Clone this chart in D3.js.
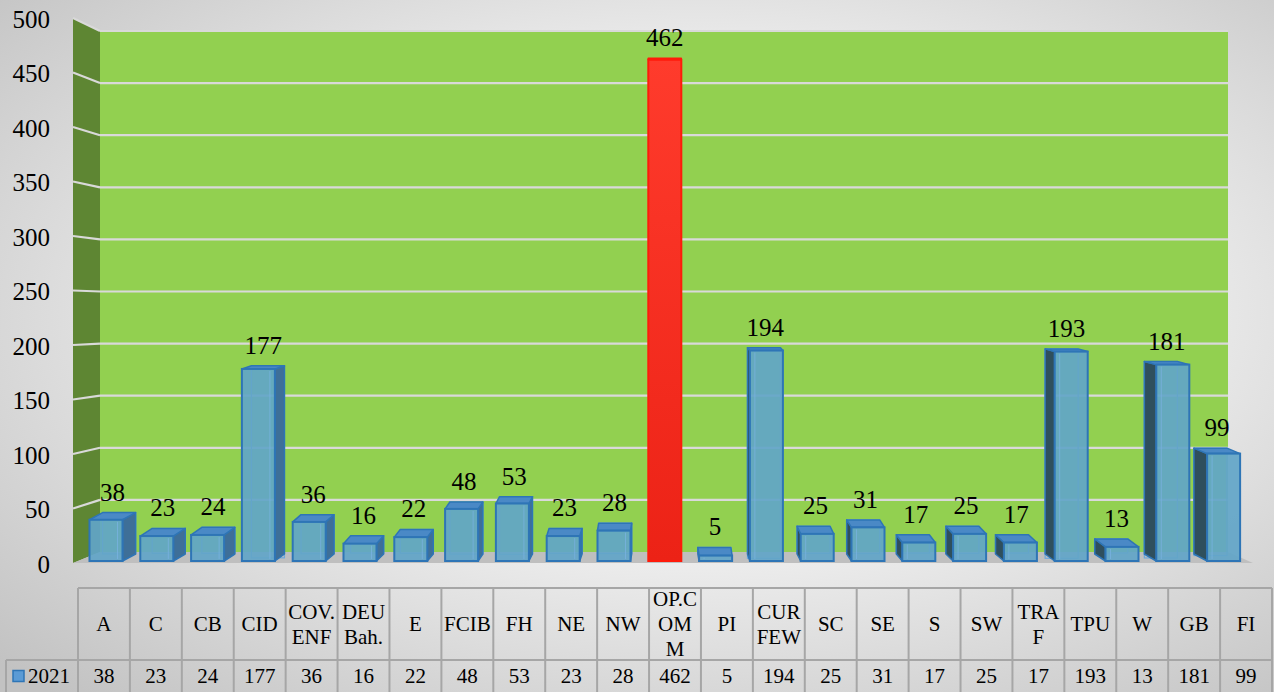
<!DOCTYPE html>
<html>
<head>
<meta charset="utf-8">
<script src="https://cdn.jsdelivr.net/npm/d3@7"></script>
<style>
html,body{margin:0;padding:0;overflow:hidden;}
svg{display:block;}
</style>
</head>
<body>
<svg id="chart" width="1274" height="692"></svg>
<script>
// ---- data ----
const categories = ["A","C","CB","CID","COV.\nENF","DEU\nBah.","E","FCIB","FH","NE","NW","OP.C\nOM\nM","PI","CUR\nFEW","SC","SE","S","SW","TRA\nF","TPU","W","GB","FI"];
const seriesName = "2021";
const values2021 = [38,23,24,177,36,16,22,48,53,23,28,462,5,194,25,31,17,25,17,193,13,181,99];
const highlight = ["OP.C\nOM\nM"];
const yTicks = [0,50,100,150,200,250,300,350,400,450,500];

const FONT = "'Liberation Serif', Tinos, 'Times New Roman', 'DejaVu Serif', 'Noto Serif', serif";
const W = 1274, H = 692;
const svg = d3.select("#chart");
const defs = svg.append("defs");

// background
const bg = defs.append("radialGradient").attr("id","bg").attr("cx","0.55").attr("cy","0.45").attr("r","0.75");
bg.append("stop").attr("offset","0").attr("stop-color","#ffffff");
bg.append("stop").attr("offset","0.4").attr("stop-color","#f3f3f3");
bg.append("stop").attr("offset","1").attr("stop-color","#c2c2c2");
svg.append("rect").attr("width",W).attr("height",H).attr("fill","url(#bg)");

const red = defs.append("linearGradient").attr("id","red").attr("x1",0).attr("y1",0).attr("x2",0).attr("y2",1);
red.append("stop").attr("offset","0").attr("stop-color","#ff3b2c");
red.append("stop").attr("offset","1").attr("stop-color","#ec2216");

// scales
const yFront = d3.scaleLinear().domain([0,500]).range([563,18]);
const yBack  = d3.scaleLinear().domain([0,500]).range([552,31]);
const yBar   = d3.scaleLinear().domain([0,500]).range([561,18.5]);
const x = d3.scaleBand().domain(categories).range([80.6,1249]).paddingInner(0.35).paddingOuter(0.175);
const xT = d3.scaleBand().domain(categories).range([78,1272]);

const wallL = 73, wallB = 100, wallR = 1228, floorR = 1253;
const vanishX = 664, persp = 0.0235;

// side wall
svg.append("polygon")
  .attr("points",[[wallL,yFront(500)],[wallB,yBack(500)],[wallB,yBack(0)],[wallL,yFront(0)]].join(" "))
  .attr("fill","#5e8633");
// back wall
svg.append("rect").attr("x",wallB).attr("y",yBack(500)).attr("width",wallR-wallB).attr("height",yBack(0)-yBack(500))
  .attr("fill","#92d050");
// floor
svg.append("polygon")
  .attr("points",[[wallL,yFront(0)],[wallB,yBack(0)],[wallR,yBack(0)],[floorR,yFront(0)]].join(" "))
  .attr("fill","#bfbfbf");

// gridlines
const grid = svg.append("g");
yTicks.filter(t=>t>0).forEach(t=>{
  grid.append("line").attr("x1",wallB).attr("x2",wallR).attr("y1",yBack(t)).attr("y2",yBack(t))
    .attr("stroke","#d9d9d9").attr("stroke-width",2.2);
  grid.append("line").attr("x1",wallL).attr("x2",wallB).attr("y1",yFront(t)).attr("y2",yBack(t))
    .attr("stroke","#d9d9d9").attr("stroke-width",2.2);
});

// y axis labels
const yAxis = d3.axisLeft(yFront).tickValues(yTicks).tickSize(0).tickPadding(0).tickFormat(d3.format("d"));
const ax = svg.append("g").attr("transform","translate(50,1)").call(yAxis);
ax.attr("font-family",FONT).attr("font-size",25);
ax.select(".domain").remove();
ax.selectAll("text").attr("font-family",FONT).attr("font-size",25).attr("fill","#000");

// bars
const bars = svg.append("g");
const labels = svg.append("g").attr("font-family",FONT);
categories.forEach((c,i)=>{
  const v = values2021[i];
  const x0 = x(c), x1 = x(c)+x.bandwidth(), cx = (x0+x1)/2;
  const dx = (vanishX - cx)*persp;
  const dy = -Math.max(1.5, 8.3 - 0.029*v);
  const yT = yBar(v), yB = yBar(0);
  const isRed = highlight.includes(c);
  const stroke = isRed ? "#ff1a0a" : "#2e75b6";
  const g = bars.append("g");
  if(!isRed){
    g.append("rect").attr("x",x0+dx).attr("y",yT+dy).attr("width",x1-x0).attr("height",yB-yT)
      .attr("fill","none").attr("stroke","#6fa8dc").attr("stroke-width",1.2);
  }
  if(Math.abs(dx)>0.8){
    const sx = dx>0 ? x1 : x0;
    g.append("polygon").attr("points",[[sx,yT],[sx+dx,yT+dy],[sx+dx,yB-7],[sx,yB]].join(" "))
      .attr("fill", isRed ? "#c81a10" : (dx>0 ? "#3e6f98" : "#2f4f5d"))
      .attr("stroke",stroke).attr("stroke-width",1.5).attr("stroke-linejoin","round");
  }
  g.append("polygon").attr("points",[[x0,yT],[x1,yT],[x1+dx,yT+dy],[x0+dx,yT+dy]].join(" "))
    .attr("fill", isRed ? "#ff3b2c" : "#4a89c6")
    .attr("stroke",stroke).attr("stroke-width",1.5).attr("stroke-linejoin","round");
  g.append("rect").attr("x",x0).attr("y",yT).attr("width",x1-x0).attr("height",yB-yT)
    .attr("fill", isRed ? "url(#red)" : "#62a5c8").attr("fill-opacity", isRed?1:0.92)
    .attr("stroke",stroke).attr("stroke-width",2);
  if(!isRed){
    const ix = dx>0 ? x1 - 5 : x0 + 5;
    g.append("line").attr("x1",ix).attr("x2",ix).attr("y1",yT+2).attr("y2",yB-2)
      .attr("stroke","#78b2e0").attr("stroke-width",1).attr("opacity",0.8);
  }
  labels.append("text").attr("x",cx+dx/2).attr("y",yT+dy-12).attr("text-anchor","middle")
    .attr("font-family",FONT).attr("font-size",25).attr("fill","#000").text(v);
});

// data table
const tbl = svg.append("g").attr("font-family",FONT);
const tTop = 588, tMid = 660, tBot = 692;
const lc = "#a6a6a6";
tbl.append("line").attr("x1",78).attr("x2",1272).attr("y1",tTop).attr("y2",tTop).attr("stroke",lc).attr("stroke-width",2);
tbl.append("line").attr("x1",6).attr("x2",1272).attr("y1",tMid).attr("y2",tMid).attr("stroke",lc).attr("stroke-width",2);
tbl.append("line").attr("x1",6).attr("x2",6).attr("y1",tMid).attr("y2",tBot).attr("stroke",lc).attr("stroke-width",2);
categories.forEach(c=>{
  tbl.append("line").attr("x1",xT(c)).attr("x2",xT(c)).attr("y1",tTop).attr("y2",tBot).attr("stroke",lc).attr("stroke-width",2);
});
tbl.append("line").attr("x1",1272).attr("x2",1272).attr("y1",tTop).attr("y2",tBot).attr("stroke",lc).attr("stroke-width",2);

categories.forEach((c,i)=>{
  const cx = xT(c)+xT.bandwidth()/2;
  const lines = c.split("\n");
  const lh = 25;
  const y0 = (tTop+tMid)/2 - (lines.length-1)*lh/2;
  lines.forEach((ln,k)=>{
    tbl.append("text").attr("x",cx).attr("y",y0+k*lh).attr("dy","0.35em").attr("text-anchor","middle")
      .attr("font-family",FONT).attr("font-size",21).text(ln);
  });
  tbl.append("text").attr("x",cx).attr("y",(tMid+tBot)/2).attr("dy","0.35em").attr("text-anchor","middle")
    .attr("font-family",FONT).attr("font-size",21).text(values2021[i]);
});
tbl.append("rect").attr("x",13).attr("y",670.5).attr("width",11).attr("height",11)
  .attr("fill","#5b9bd5").attr("stroke","#2e75b6").attr("stroke-width",1.5);
tbl.append("text").attr("x",28).attr("y",(tMid+tBot)/2).attr("dy","0.35em")
  .attr("font-family",FONT).attr("font-size",21).text(seriesName);
</script>
</body>
</html>
